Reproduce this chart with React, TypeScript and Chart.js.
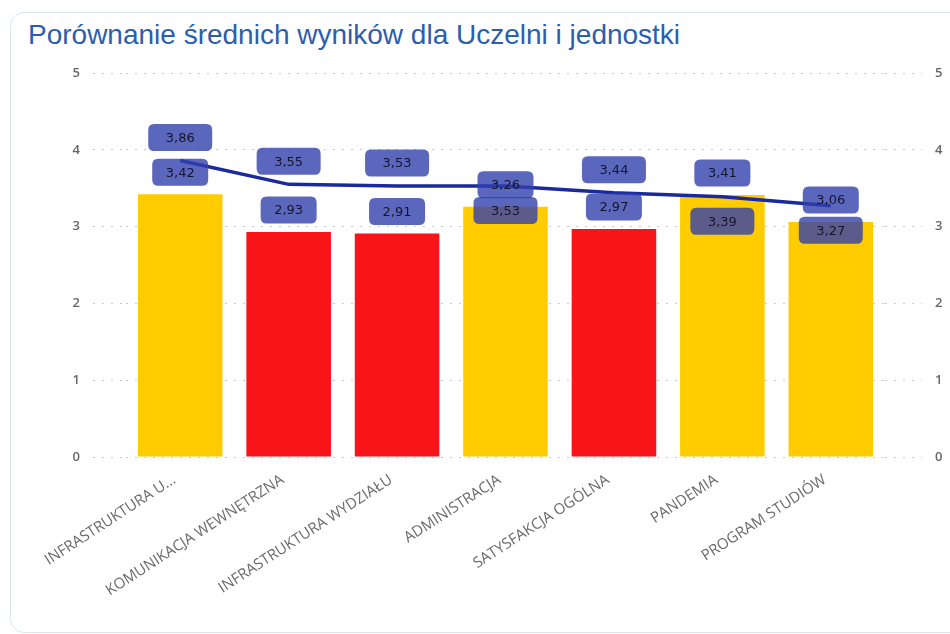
import React, { useEffect, useRef } from "react";
import { Chart, registerables } from "chart.js";

Chart.register(...registerables);

const TITLE = "Porównanie średnich wyników dla Uczelni i jednostki";
const categories = [
  "INFRASTRUKTURA U...",
  "KOMUNIKACJA WEWNĘTRZNA",
  "INFRASTRUKTURA WYDZIAŁU",
  "ADMINISTRACJA",
  "SATYSFAKCJA OGÓLNA",
  "PANDEMIA",
  "PROGRAM STUDIÓW",
];
const unitValues = [3.42, 2.93, 2.91, 3.26, 2.97, 3.41, 3.06];
const uczelniaValues = [3.86, 3.55, 3.53, 3.53, 3.44, 3.39, 3.27];
const yTicks = [0, 1, 2, 3, 4, 5];
const threshold = 3;

const YELLOW = "#FFCC00";
const RED = "#F8151A";
const LINE = "#1A2A9E";
const LABEL_BG = "rgba(50, 64, 172, 0.8)";
const LABEL_TEXT = "#15162E";

const fmt = (v: number) => v.toFixed(2).replace(".", ",");

function roundRect(ctx: CanvasRenderingContext2D, x: number, y: number, w: number, h: number, r: number) {
  ctx.beginPath();
  ctx.moveTo(x + r, y);
  ctx.lineTo(x + w - r, y);
  ctx.quadraticCurveTo(x + w, y, x + w, y + r);
  ctx.lineTo(x + w, y + h - r);
  ctx.quadraticCurveTo(x + w, y + h, x + w - r, y + h);
  ctx.lineTo(x + r, y + h);
  ctx.quadraticCurveTo(x, y + h, x, y + h - r);
  ctx.lineTo(x, y + r);
  ctx.quadraticCurveTo(x, y, x + r, y);
  ctx.closePath();
}

const labelPlugin = {
  id: "valueLabels",
  afterDatasetsDraw(chart: any) {
    const ctx: CanvasRenderingContext2D = chart.ctx;
    const barMeta = chart.getDatasetMeta(0);
    const lineMeta = chart.getDatasetMeta(1);
    const H = 27;
    ctx.save();
    ctx.font = '13px "DejaVu Sans"';
    ctx.textAlign = "center";
    ctx.textBaseline = "middle";
    const drawBox = (cx: number, cy: number, text: string, w: number) => {
      ctx.fillStyle = LABEL_BG;
      roundRect(ctx, cx - w / 2, cy - H / 2, w, H, 6);
      ctx.fill();
      ctx.fillStyle = LABEL_TEXT;
      ctx.fillText(text, cx, cy + 1);
    };
    const barCenters: number[] = [];
    barMeta.data.forEach((el: any, i: number) => {
      const cy = el.y - 22;
      barCenters.push(cy);
      drawBox(el.x, cy, fmt(chart.data.datasets[0].data[i]), 56);
    });
    lineMeta.data.forEach((el: any, i: number) => {
      let cy = el.y - 23;
      if (Math.abs(cy - barCenters[i]) < H) cy = el.y + 24.5;
      drawBox(el.x, cy, fmt(chart.data.datasets[1].data[i]), 64);
    });
    ctx.restore();
  },
};

export default function App() {
  const canvasRef = useRef<HTMLCanvasElement>(null);

  useEffect(() => {
    document.body.style.overflow = "hidden";
    const canvas = canvasRef.current;
    if (!canvas) return;
    const tickFont = { family: '"Open Sans"', size: 13, weight: 600 as any };
    const chart = new Chart(canvas, {
      type: "bar",
      data: {
        labels: categories,
        datasets: [
          {
            type: "bar",
            label: "Jednostka",
            data: unitValues,
            backgroundColor: unitValues.map((v) => (v < threshold ? RED : YELLOW)),
            barPercentage: 0.78,
            categoryPercentage: 1,
            yAxisID: "y",
            order: 2,
          },
          {
            type: "line",
            label: "Uczelnia",
            data: uczelniaValues,
            borderColor: LINE,
            borderWidth: 3.5,
            pointRadius: 0,
            tension: 0,
            fill: false,
            yAxisID: "y",
            order: 1,
          } as any,
        ],
      },
      options: {
        responsive: false,
        animation: false,
        layout: { padding: { top: 73, left: 0, right: 0, bottom: 0 } },
        plugins: {
          legend: { display: false },
          tooltip: { enabled: false },
          title: { display: false },
        },
        scales: {
          x: {
            grid: { display: false, drawTicks: false },
            border: { display: false },
            ticks: {
              autoSkip: false,
              minRotation: 33,
              maxRotation: 33,
              padding: 14,
              labelOffset: -6,
              color: "#6b6b6b",
              font: { family: '"Open Sans"', size: 15 },
            },
            afterFit: (s: any) => {
              s.height = 177;
            },
          },
          y: {
            position: "left",
            min: 0,
            max: 5,
            afterBuildTicks: (s: any) => {
              s.ticks = yTicks.map((v) => ({ value: v }));
            },
            grid: {
              color: "#c9c9c9",
              lineWidth: 1,
              drawTicks: true,
              tickLength: 33,
              tickColor: "#c9c9c9",
              tickBorderDash: [2, 7],
            } as any,
            border: { display: false, dash: [2, 7] },
            ticks: { padding: 13, color: "#666666", font: tickFont },
            afterFit: (s: any) => {
              s.width = 126;
            },
          },
          y1: {
            position: "right",
            min: 0,
            max: 5,
            afterBuildTicks: (s: any) => {
              s.ticks = yTicks.map((v) => ({ value: v }));
            },
            grid: {
              drawOnChartArea: false,
              drawTicks: true,
              tickLength: 37,
              tickColor: "#c9c9c9",
              tickBorderDash: [2, 7],
            } as any,
            border: { display: false },
            ticks: { padding: 13, color: "#666666", font: tickFont },
            afterFit: (s: any) => {
              s.width = 65;
            },
          },
        },
      },
      plugins: [labelPlugin],
    });
    return () => chart.destroy();
  }, []);

  return (
    <div style={{ position: "fixed", left: 0, top: 0, width: 950, height: 634, background: "#fff", overflow: "hidden" }}>
      <div
        style={{
          position: "absolute",
          left: 10,
          top: 12,
          width: 960,
          height: 621,
          border: "1px solid #dde4ee",
          borderRadius: 14,
          boxSizing: "border-box",
        }}
      />
      <div
        style={{
          position: "absolute",
          left: 28,
          top: 17,
          fontFamily: '"Liberation Sans", Arial, sans-serif',
          fontSize: 28,
          lineHeight: "36px",
          color: "#2B5EAE",
          whiteSpace: "nowrap",
        }}
      >
        {TITLE}
      </div>
      <canvas ref={canvasRef} width={950} height={634} style={{ position: "absolute", left: 0, top: 0 }} />
    </div>
  );
}
